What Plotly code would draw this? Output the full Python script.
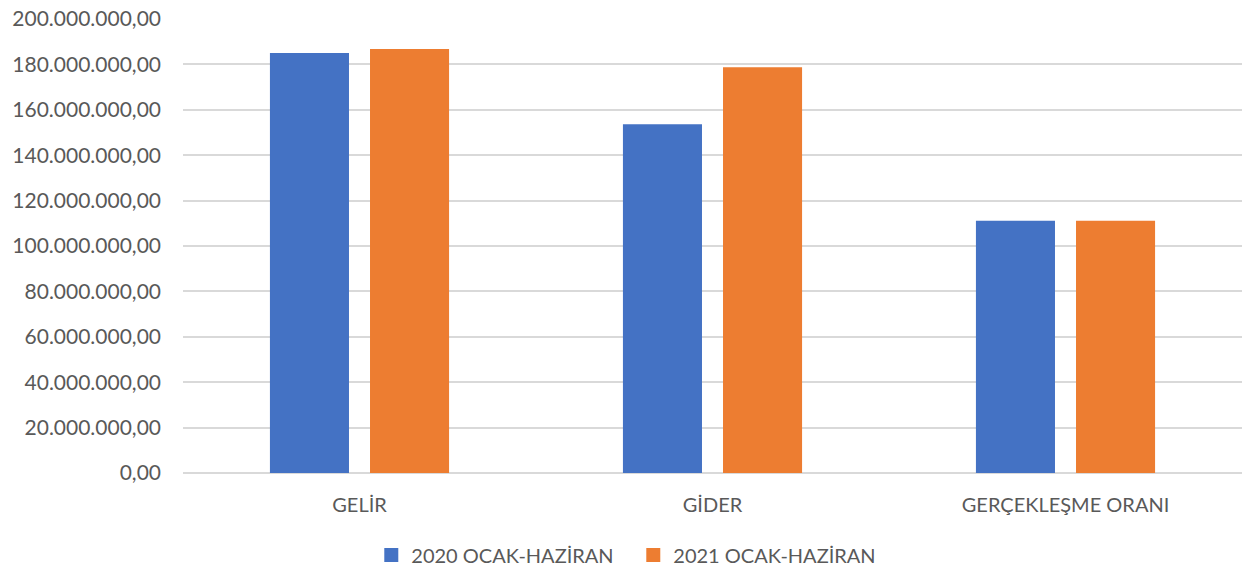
import plotly.graph_objects as go

categories = ["GELİR", "GİDER", "GERÇEKLEŞME ORANI"]
series_2020 = [185_000_000, 153_600_000, 111_100_000]
series_2021 = [186_800_000, 178_700_000, 111_100_000]
series_names = ["2020 OCAK-HAZİRAN", "2021 OCAK-HAZİRAN"]
series_colors = ["#4472C4", "#ED7D31"]
tick_vals = list(range(0, 200_000_001, 20_000_000))

font_family = "Lato, 'Open Sans', sans-serif"
text_color = "#595959"

fig = go.Figure()
for name, vals, col in zip(series_names, [series_2020, series_2021], series_colors):
    fig.add_trace(go.Bar(x=categories, y=vals, name=name, showlegend=False,
                         marker=dict(color=col, line=dict(width=0))))
# legend entries with larger square symbols
for name, col in zip(series_names, series_colors):
    fig.add_trace(go.Scatter(x=[None], y=[None], mode="markers", name=name,
                             marker=dict(symbol="square", size=14, color=col)))

fig.update_layout(
    width=1244, height=570,
    margin=dict(l=183, r=2, t=19, b=97, autoexpand=False),
    paper_bgcolor="white", plot_bgcolor="white",
    separators=",.",
    barmode="group", bargap=0.433, bargroupgap=0.21,
    font=dict(family=font_family, color=text_color, size=20),
    showlegend=True,
    legend=dict(orientation="h", x=0.4252, xanchor="center", y=-0.1806, yanchor="middle",
                font=dict(size=20, color=text_color), itemsizing="trace",
                traceorder="normal", itemwidth=30,
                entrywidth=217, entrywidthmode="pixels"),
    xaxis=dict(showgrid=False, showline=False, ticks="", automargin=False,
               ticklabelstandoff=18, tickfont=dict(size=20, color=text_color)),
    yaxis=dict(range=[0, 200_000_000], tickvals=tick_vals, tickformat=",.2f",
               showgrid=True, gridcolor="#D9D9D9", gridwidth=1.8,
               zeroline=True, zerolinecolor="#D9D9D9", zerolinewidth=1.8,
               ticks="", ticklabelstandoff=21, automargin=False,
               tickfont=dict(size=21, color=text_color)),
)

fig.write_html("out.html", config={"displayModeBar": False},
               post_script="document.body.style.margin='0';")
